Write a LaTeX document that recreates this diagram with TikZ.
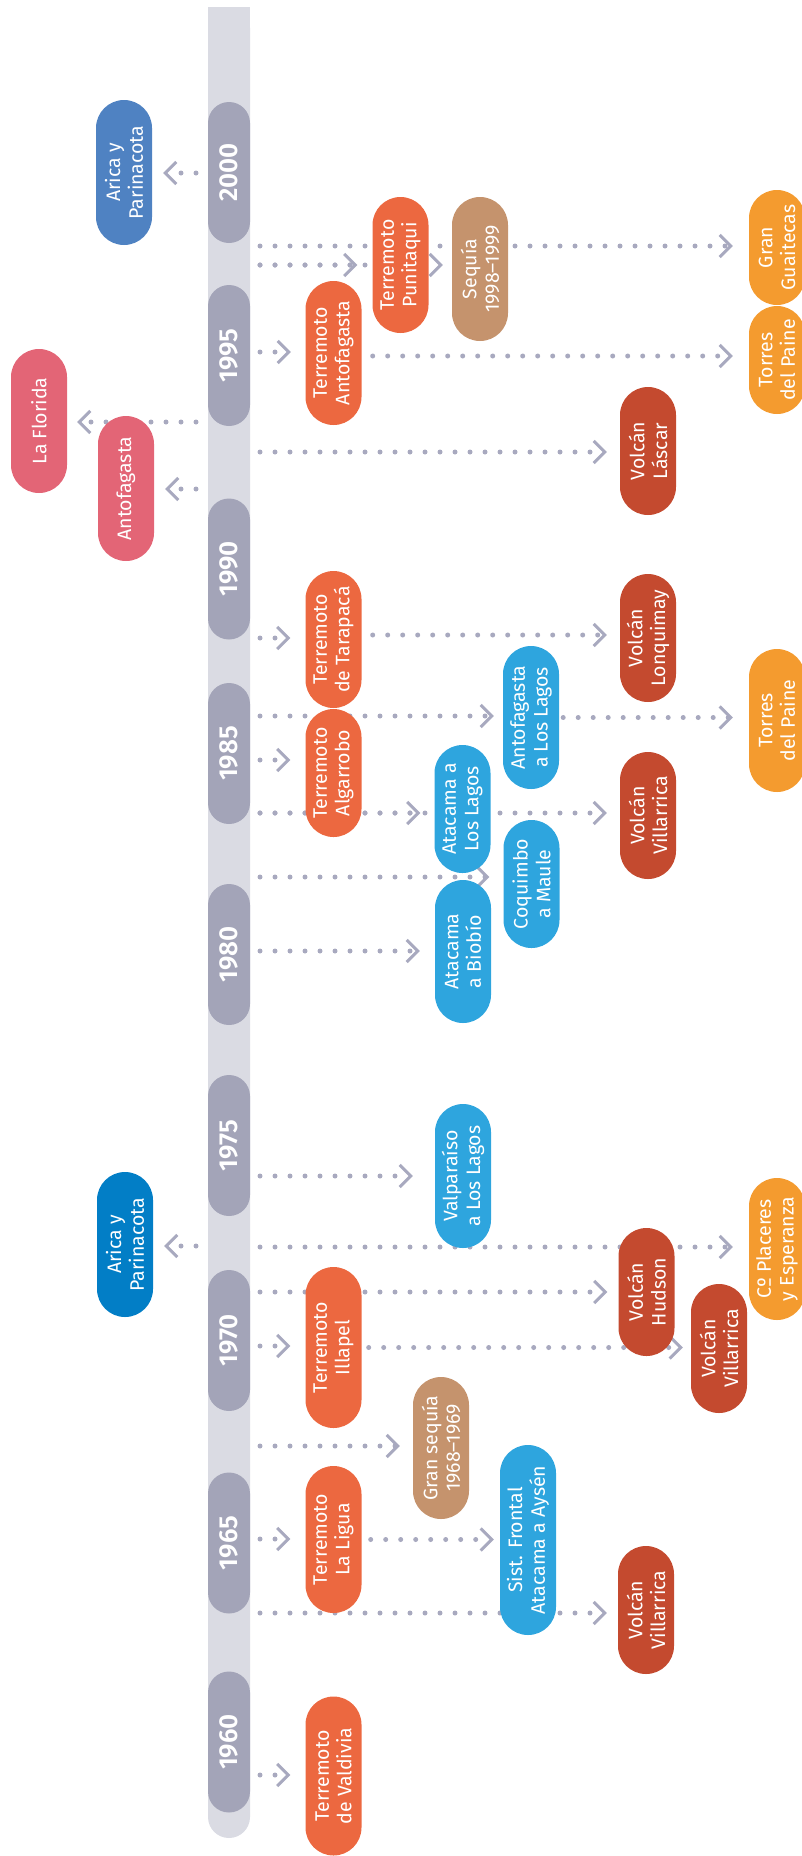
\documentclass[tikz,border=0pt]{standalone}
\usepackage{fontspec}
\setmainfont{Fira Sans}[BoldFont={Fira Sans SemiBold}]
\usetikzlibrary{arrows.meta}
\definecolor{barbg}{HTML}{DADBE3}
\definecolor{yearc}{HTML}{A3A4B8}
\definecolor{dotc}{HTML}{A8A9BF}
\definecolor{terr}{HTML}{EC6840}
\definecolor{volc}{HTML}{C44A2F}
\definecolor{regb}{HTML}{2EA5DE}
\definecolor{sand}{HTML}{C5936D}
\definecolor{orng}{HTML}{F49B2F}
\definecolor{pinkc}{HTML}{E36576}
\definecolor{aricaAc}{HTML}{4F82C2}
\definecolor{aricaBc}{HTML}{027EC6}
\pgfdeclarelayer{bg}
\pgfsetlayers{bg,main}
\tikzset{
  pill/.style={rotate=90, shape=rectangle, rounded corners=28pt, minimum height=56pt,
    inner sep=0pt, text=white, align=center, font=\fontsize{19.5}{22.7}\selectfont},
  yr/.style={rotate=90, shape=rectangle, rounded corners=21pt, minimum height=42pt,
    minimum width=141pt, inner sep=0pt, fill=yearc, text=white,
    font=\fontsize{26}{28}\selectfont\bfseries},
  conn/.style={draw=dotc, line width=5pt, line cap=round, dash pattern=on 0pt off 15pt,
    -{Straight Barb[length=11pt,width=22pt,line width=3pt 0 1]}},
}
\begin{document}
\begin{tikzpicture}[x=1pt,y=-1pt]
\useasboundingbox (0,0) rectangle (802,1856);
% year pills
\node[yr] (y2000) at (229,172.5) {2000};
\node[yr] (y1995) at (229,355.5) {1995};
\node[yr] (y1990) at (229,569) {1990};
\node[yr] (y1985) at (229,753.5) {1985};
\node[yr] (y1980) at (229,954.5) {1980};
\node[yr] (y1975) at (229,1145.5) {1975};
\node[yr] (y1970) at (229,1340.5) {1970};
\node[yr] (y1965) at (229,1543) {1965};
\node[yr] (y1960) at (229,1742) {1960};
% events
\node[pill, fill=aricaAc, minimum width=145pt] (aricaA) at (124,172.5) {Arica y\\Parinacota};
\node[pill, fill=pinkc, minimum width=144pt] (flor) at (39,421) {La Florida};
\node[pill, fill=pinkc, minimum width=145pt] (antP) at (126,488.5) {Antofagasta};
\node[pill, fill=terr, minimum width=136pt] (puni) at (400.5,265) {Terremoto\\Punitaqui};
\node[pill, fill=sand, minimum width=144pt] (seqA) at (480,269) {Sequía\\1998–1999};
\node[pill, fill=orng, minimum width=115pt] (guai) at (777,247.5) {Gran\\Guaitecas};
\node[pill, fill=orng, minimum width=108pt] (paineA) at (777,360) {Torres\\del Paine};
\node[pill, fill=terr, minimum width=144pt] (tanto) at (333.5,353) {Terremoto\\Antofagasta};
\node[pill, fill=volc, minimum width=128pt] (lasc) at (648,451) {Volcán\\Láscar};
\node[pill, fill=terr, minimum width=137pt] (tara) at (333.5,639.5) {Terremoto\\de Tarapacá};
\node[pill, fill=volc, minimum width=128pt] (lonq) at (648,638) {Volcán\\Lonquimay};
\node[pill, fill=regb, minimum width=143pt] (antll) at (531,717.5) {Antofagasta\\a Los Lagos};
\node[pill, fill=orng, minimum width=143pt] (paineB) at (777,720.5) {Torres\\del Paine};
\node[pill, fill=terr, minimum width=128pt] (algo) at (333.5,773) {Terremoto\\Algarrobo};
\node[pill, fill=regb, minimum width=128pt] (atall) at (462.5,809) {Atacama a\\Los Lagos};
\node[pill, fill=volc, minimum width=127pt] (villA) at (648,815.5) {Volcán\\Villarrica};
\node[pill, fill=regb, minimum width=128pt] (coqm) at (531.5,884) {Coquimbo\\a Maule};
\node[pill, fill=regb, minimum width=143pt] (atabb) at (463,951.5) {Atacama\\a Biobío};
\node[pill, fill=regb, minimum width=144pt] (valp) at (463,1176) {Valparaíso\\a Los Lagos};
\node[pill, fill=aricaBc, minimum width=145pt] (aricaB) at (125,1244.5) {Arica y\\Parinacota};
\node[pill, fill=orng, minimum width=142pt] (place) at (777,1249) {Cº Placeres\\y Esperanza};
\node[pill, fill=volc, minimum width=128pt] (huds) at (646.5,1292) {Volcán\\Hudson};
\node[pill, fill=terr, minimum width=161pt] (illa) at (333.5,1347.5) {Terremoto\\Illapel};
\node[pill, fill=volc, minimum width=129pt] (villB) at (719,1348.5) {Volcán\\Villarrica};
\node[pill, fill=sand, minimum width=142pt] (seqB) at (441,1448) {Gran sequía\\1968–1969};
\node[pill, fill=terr, minimum width=147pt] (ligua) at (333.5,1539.5) {Terremoto\\La Ligua};
\node[pill, fill=regb, minimum width=190pt] (sist) at (528,1540) {Sist. Frontal\\Atacama a Aysén};
\node[pill, fill=volc, minimum width=128pt] (villC) at (646,1610) {Volcán\\Villarrica};
\node[pill, fill=terr, minimum width=159pt] (vald) at (333.5,1776) {Terremoto\\de Valdivia};
% connector start points
\coordinate (c246) at (260,246);
\coordinate (c265) at (260,265);
\coordinate (c352) at (260,352);
\coordinate (c452) at (260,452);
\coordinate (c638) at (260,638);
\coordinate (c716) at (260,716);
\coordinate (c760) at (260,760);
\coordinate (c813) at (260,813);
\coordinate (c877) at (260,877);
\coordinate (c951) at (260,951);
\coordinate (c1176) at (260,1176);
\coordinate (c1247) at (260,1247);
\coordinate (c1292) at (260,1292);
\coordinate (c1346) at (260,1346);
\coordinate (c1446) at (260,1446);
\coordinate (c1539) at (260,1539);
\coordinate (c1613) at (260,1613);
\coordinate (c1775) at (260,1775);
\coordinate (l173) at (196,173);
\coordinate (l422) at (196,422);
\coordinate (l489) at (196,489);
\coordinate (l1246) at (196,1246);
\coordinate (t356) at ([yshift=-3pt]tanto.south);
\coordinate (t635) at ([yshift=4.5pt]tara.south);
\begin{pgfonlayer}{bg}
\fill[barbg, rounded corners=21pt] (208,7) rectangle (250,1838);
\fill[barbg] (208,7) rectangle (250,60);
% left arrows
\draw[conn, shorten >=11pt] (l173) -- (l173 -| aricaA.south);
\draw[conn, shorten >=10pt] (l422) -- (l422 -| flor.south);
\draw[conn, shorten >=11pt] (l489) -- (l489 -| antP.south);
\draw[conn, shorten >=11pt] (l1246) -- (l1246 -| aricaB.south);
% right arrows
\draw[conn, shorten >=16pt] (c246) -- (c246 -| guai.north);
\draw[conn, shorten >=9pt] (c265) -- (c265 -| seqA.north);
\draw[conn, shorten >=15pt] (c265) -- (c265 -| puni.north);
\draw[conn, shorten >=14.5pt] (c352) -- (c352 -| tanto.north);
\draw[conn, shorten <=11pt, shorten >=16pt] (t356) -- (t356 -| paineA.north);
\draw[conn, shorten >=13pt] (c452) -- (c452 -| lasc.north);
\draw[conn, shorten >=15pt] (c638) -- (c638 -| tara.north);
\draw[conn, shorten <=11pt, shorten >=13pt] (t635) -- (t635 -| lonq.north);
\draw[conn, shorten >=9pt] (c716) -- (c716 -| antll.north);
\draw[conn, shorten <=4pt, shorten >=16pt] (antll.south) -- (antll.south -| paineB.north);
\draw[conn, shorten >=15pt] (c760) -- (c760 -| algo.north);
\draw[conn, shorten >=13pt] (c813) -- (c813 -| villA.north);
\draw[conn, shorten >=14pt] (c813) -- (c813 -| atall.north);
\draw[conn, shorten >=14pt] (c877) -- (c877 -| coqm.north);
\draw[conn, shorten >=15pt] (c951) -- (c951 -| atabb.north);
\draw[conn, shorten >=22pt] (c1176) -- (c1176 -| valp.north);
\draw[conn, shorten >=16pt] (c1247) -- (c1247 -| place.north);
\draw[conn, shorten >=11pt] (c1292) -- (c1292 -| huds.north);
\draw[conn, shorten >=15pt] (c1346) -- (c1346 -| illa.north);
\draw[conn, shorten <=7pt, shorten >=8pt] (illa.south) -- (illa.south -| villB.north);
\draw[conn, shorten >=13pt] (c1446) -- (c1446 -| seqB.north);
\draw[conn, shorten >=15pt] (c1539) -- (c1539 -| ligua.north);
\draw[conn, shorten <=9pt, shorten >=6pt] (ligua.south) -- (ligua.south -| sist.north);
\draw[conn, shorten >=11pt] (c1613) -- (c1613 -| villC.north);
\draw[conn, shorten >=15pt] (c1775) -- (c1775 -| vald.north);
\end{pgfonlayer}
\end{tikzpicture}
\end{document}
